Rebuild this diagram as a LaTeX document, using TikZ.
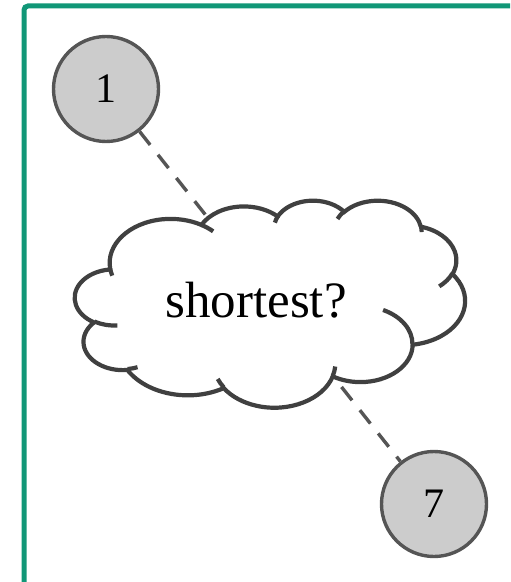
\documentclass[tikz,border=0pt]{standalone}
\usepackage{fontspec}
\setmainfont{Liberation Serif}
\usetikzlibrary{backgrounds}

\definecolor{framegreen}{HTML}{119777}
\definecolor{nodegray}{HTML}{CCCCCC}
\definecolor{rimgray}{HTML}{555555}
\definecolor{cloudgray}{HTML}{404040}

% one bump of the cloud: x radius / y radius / start angle / sweep (true angles)
\tikzset{puffarc/.code args={#1/#2/#3/#4}{%
    \pgfmathsetmacro\pa{atan2(#1*sin(#3),#2*cos(#3))}%
    \pgfmathsetmacro\pb{atan2(#1*sin(#3+#4),#2*cos(#3+#4))}%
    \pgfmathsetmacro\pb{\pb<\pa ? \pb+360 : \pb}%
    \edef\pd{\noexpand\tikzset{insert path={arc[start angle=\pa,end angle=\pb,
      x radius=#1,y radius=#2]}}}\pd}}

\begin{document}
\begin{tikzpicture}[x=0.5pt,y=-0.5pt,
    vertex/.style={circle,draw=rimgray,fill=nodegray,line width=1.7pt,
      minimum size=52.5pt,inner sep=0pt,font=\fontsize{21}{25}\selectfont},
    puffline/.style={draw=cloudgray,line width=2.1pt},
    link/.style={draw=rimgray,line width=1.7pt,dash pattern=on 8.5pt off 6.3pt}]

% page size and the green frame
\useasboundingbox (0,0) rectangle (510,582);
\clip (0,0) rectangle (510,582);
\draw [framegreen,line width=2.5pt,rounded corners=2pt] (24,6) rectangle (620,700);

% the two end points
\node [vertex] (n1) at (106,89) {1};
\node [vertex] (n7) at (434,504) {7};

% the cloud, in a 4320 x 4320 box
\begin{scope}[shift={(75,200)},x=0.045139pt,y=-0.023958pt]
\path [puffline,fill=white] (390.0,1437.0)
  [puffarc=675.3/919.0/-190.4875/123.7805]
  [puffarc=533.3/726.7/-144.1024/89.9452]
  [puffarc=436.5/594.5/-145.8079/99.7230]
  [puffarc=485.7/659.5/-130.9861/117.2417]
  [puffarc=533.3/727.3/-78.7089/109.0269]
  [puffarc=677.5/922.0/-46.2673/130.2690]
  [puffarc=578.5/786.7/0.6250/114.0333]
  [puffarc=675.2/921.5/22.4516/115.1726]
  [puffarc=772.0/1054.3/66.2426/75.7110]
  [puffarc=436.0/591.8/-274.9421/146.7356]
  [puffarc=434.5/594.5/-246.8285/152.5189] -- cycle;
% inner hooks
\path [puffline]
  (469.3,2617.7) [puffarc=434.5/594.5/86.7420/26.4295]
  (692.8,3489.9) [puffarc=436.0/591.8/73.6105/11.4475]
  (1647.8,3909.0) [puffarc=675.2/921.5/137.6242/14.0811]
  (2882.7,3475.1) [puffarc=675.2/921.5/6.4533/15.9984]
  (3412.9,2295.4) [puffarc=578.5/786.7/-70.2924/70.9174]
  (4179.8,1535.4) [puffarc=533.3/727.3/30.3180/27.7515]
  (3832.4,542.6) [puffarc=485.7/659.5/-13.7443/14.8557]
  (2907.8,395.2) [puffarc=485.7/659.5/-149.1815/18.1976]
  (2214.1,472.0) [puffarc=436.5/594.5/-163.4943/17.6927]
  (1400.0,519.2) [puffarc=675.3/919.0/-66.7070/12.3194]
  (412.7,1578.9) [puffarc=675.3/919.0/157.6544/11.8582];
\end{scope}
\node [font=\fontsize{25.5}{30}\selectfont,inner sep=0pt] (fog) at (256,300.5) {shortest?};

% the path, hidden by the cloud
\begin{pgfonlayer}{background}
\draw [link] (n1) -- (n7);
\end{pgfonlayer}

\end{tikzpicture}
\end{document}
